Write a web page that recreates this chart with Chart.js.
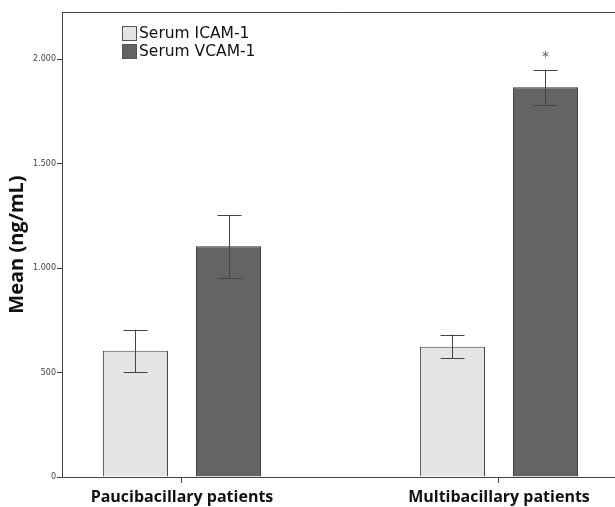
<!DOCTYPE html>
<html>
<head>
<meta charset="utf-8">
<script src="https://cdn.jsdelivr.net/npm/chart.js@4"></script>
<style>
  html, body { margin: 0; padding: 0; background: #fff; overflow: hidden; }
  #wrap { width: 615px; height: 507px; position: relative; }
</style>
</head>
<body>
<div id="wrap"><canvas id="meanChart"></canvas></div>
<script>
// Data
const categories = ['Paucibacillary patients', 'Multibacillary patients'];
const icamMean = [604, 623];
const icamLow = [501, 568];
const icamHigh = [705, 681];
const vcamMean = [1104, 1865];
const vcamLow = [952, 1781];
const vcamHigh = [1254, 1949];
const vcamMarks = ['', '*'];
const yTicks = [0, 500, 1000, 1500, 2000];

const toPoints = (vals) => vals.map((v, i) => ({ x: i, y: v }));
const fmt = (v) => String(v).replace(/\B(?=(\d{3})+(?!\d))/g, '.');

// error bars, asterisk, frame and legend
const extras = {
    id: 'extras',
    afterDatasetsDraw(chart) {
        const c = chart.ctx;
        const y = chart.scales.y;
        const area = chart.chartArea;
        const ranges = [[icamLow, icamHigh], [vcamLow, vcamHigh]];

        c.save();
        c.strokeStyle = '#444';
        c.lineWidth = 1;
        ranges.forEach((r, d) => {
            chart.getDatasetMeta(d).data.forEach((bar, i) => {
                const x = Math.round(bar.x) + 0.5;
                const top = y.getPixelForValue(r[1][i]);
                const bot = y.getPixelForValue(r[0][i]);
                c.beginPath();
                c.moveTo(x, top); c.lineTo(x, bot);
                c.moveTo(x - 12, Math.round(top) + 0.5); c.lineTo(x + 12, Math.round(top) + 0.5);
                c.moveTo(x - 12, Math.round(bot) + 0.5); c.lineTo(x + 12, Math.round(bot) + 0.5);
                c.stroke();
            });
        });

        // significance mark
        c.fillStyle = '#555';
        c.font = '14px "DejaVu Sans"';
        c.textAlign = 'center';
        c.textBaseline = 'middle';
        chart.getDatasetMeta(1).data.forEach((bar, i) => {
            if (vcamMarks[i]) c.fillText(vcamMarks[i], bar.x, y.getPixelForValue(vcamHigh[i]) - 12);
        });

        // top frame line
        c.beginPath();
        c.moveTo(area.left, area.top + 0.5);
        c.lineTo(area.right, area.top + 0.5);
        c.stroke();

        // legend
        c.font = '15.5px "DejaVu Sans"';
        c.textAlign = 'left';
        chart.data.datasets.forEach((ds, d) => {
            const lx = area.left + 60;
            const ly = area.top + 14 + d * 18;
            c.fillStyle = ds.backgroundColor;
            c.fillRect(lx, ly, 15, 15);
            c.strokeStyle = '#555';
            c.strokeRect(lx + 0.5, ly + 0.5, 14, 14);
            c.fillStyle = '#111';
            c.fillText(ds.label, lx + 17, ly + 8);
        });
        c.restore();
    }
};

new Chart(document.getElementById('meanChart'), {
    type: 'bar',
    data: {
        datasets: [
            {
                label: 'Serum ICAM-1',
                data: toPoints(icamMean),
                backgroundColor: '#e4e4e4',
                borderColor: '#444',
                borderWidth: 1
            },
            {
                label: 'Serum VCAM-1',
                data: toPoints(vcamMean),
                backgroundColor: '#646464',
                borderColor: '#333',
                borderWidth: 1
            }
        ]
    },
    options: {
        responsive: true,
        maintainAspectRatio: false,
        animation: false,
        categoryPercentage: 0.587,
        barPercentage: 0.70,
        layout: { padding: { top: 12, right: 0, left: 0, bottom: 0 } },
        plugins: {
            legend: { display: false },
            tooltip: { enabled: false }
        },
        scales: {
            x: {
                type: 'linear',
                offset: false,
                min: -0.3785,
                max: 1.366,
                afterBuildTicks: (s) => { s.ticks = categories.map((c, i) => ({ value: i })); },
                afterFit: (s) => { s.height = 30; },
                ticks: {
                    callback: (v) => categories[v],
                    autoSkip: false,
                    maxRotation: 0,
                    padding: 5,
                    color: '#111',
                    font: { family: '"Open Sans"', size: 16, weight: 'bold' }
                },
                grid: { offset: false, drawOnChartArea: false, tickLength: 6, color: '#444' },
                border: { color: '#444' }
            },
            y: {
                min: 0,
                max: 2225,
                afterBuildTicks: (s) => { s.ticks = yTicks.map((v) => ({ value: v })); },
                afterFit: (s) => { s.width = 62; },
                ticks: {
                    callback: (v) => fmt(v),
                    padding: 1,
                    color: '#444',
                    font: { family: '"DejaVu Sans"', size: 8 }
                },
                grid: { drawOnChartArea: false, tickLength: 5, color: '#444' },
                border: { color: '#444' },
                title: {
                    display: true,
                    text: 'Mean (ng/mL)',
                    color: '#111',
                    padding: { top: 5, bottom: 0 },
                    font: { family: '"Open Sans"', size: 20, weight: 'bold' }
                }
            }
        }
    },
    plugins: [extras]
});
</script>
</body>
</html>
